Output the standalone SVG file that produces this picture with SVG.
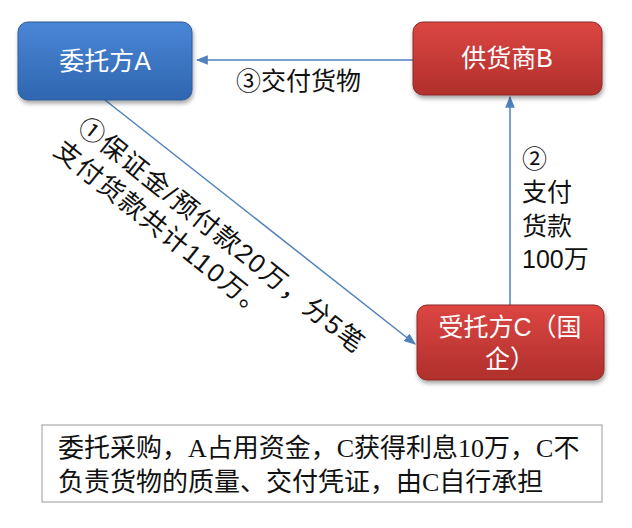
<svg xmlns="http://www.w3.org/2000/svg" width="632" height="528" viewBox="0 0 632 528">
<defs>
<linearGradient id="gb" x1="0" y1="0" x2="0" y2="1"><stop offset="0" stop-color="#4a86d6"/><stop offset="1" stop-color="#2f66b0"/></linearGradient>
<linearGradient id="gr" x1="0" y1="0" x2="0" y2="1"><stop offset="0" stop-color="#dc4642"/><stop offset="1" stop-color="#b02f2c"/></linearGradient>
<marker id="ar" viewBox="0 0 10 10" refX="9" refY="5" markerWidth="8" markerHeight="8" orient="auto"><path d="M0,1 L10,5 L0,9 z" fill="#4f81bd"/></marker>
<filter id="sh" x="-10%" y="-10%" width="130%" height="140%"><feDropShadow dx="1" dy="3" stdDeviation="2" flood-opacity="0.35"/></filter>
</defs>
<style>
.n{font-family:"Liberation Sans","Noto Sans CJK SC",sans-serif;font-size:25px;fill:#fff;text-anchor:middle}
.t{font-family:"Liberation Sans","Noto Sans CJK SC",sans-serif;font-size:25px;fill:#111}
.s{font-family:"Liberation Serif","Noto Sans CJK SC",serif;font-size:26px;fill:#111}
.c{stroke:#4f81bd;stroke-width:1.5;fill:none;marker-end:url(#ar)}
</style>
<rect width="632" height="528" fill="#fff"/>
<g id="connectors">
<line class="c" x1="413" y1="60" x2="197" y2="60"/>
<line class="c" x1="510" y1="305" x2="510" y2="97"/>
<line class="c" x1="105" y1="100" x2="415" y2="344"/>
</g>
<g id="A"><rect x="18" y="22" width="174" height="78" rx="10" fill="url(#gb)" stroke="#2c5a96" filter="url(#sh)"/><text class="n" x="105" y="70">委托方A</text></g>
<g id="B"><rect x="413" y="22" width="189" height="73" rx="10" fill="url(#gr)" stroke="#8c2a28" filter="url(#sh)"/><text class="n" x="507" y="67">供货商B</text></g>
<g id="C"><rect x="417" y="305" width="187" height="75" rx="10" fill="url(#gr)" stroke="#8c2a28" filter="url(#sh)"/><text class="n" x="510" y="336">受托方C（国</text><text class="n" x="510" y="368">企）</text></g>
<text class="t" x="236" y="90">③交付货物</text>
<text class="t" x="522" y="168">②</text>
<text class="t" x="522" y="201">支付</text>
<text class="t" x="522" y="235">货款</text>
<text class="t" x="522" y="268">100万</text>
<g transform="translate(76,130) rotate(38.7)">
<text class="t" x="0" y="0" style="font-size:26px;letter-spacing:1.5px">①保证金/预付款20万，分5笔</text>
<text class="t" x="-4" y="33" style="font-size:26px;letter-spacing:1.5px">支付货款共计110万。</text>
</g>
<g id="note"><rect x="42" y="425" width="560" height="77" fill="#fff" stroke="#999"/>
<text class="s" x="58" y="457">委托采购，A占用资金，C获得利息10万，C不</text>
<text class="s" x="58" y="491">负责货物的质量、交付凭证，由C自行承担</text></g>
</svg>
